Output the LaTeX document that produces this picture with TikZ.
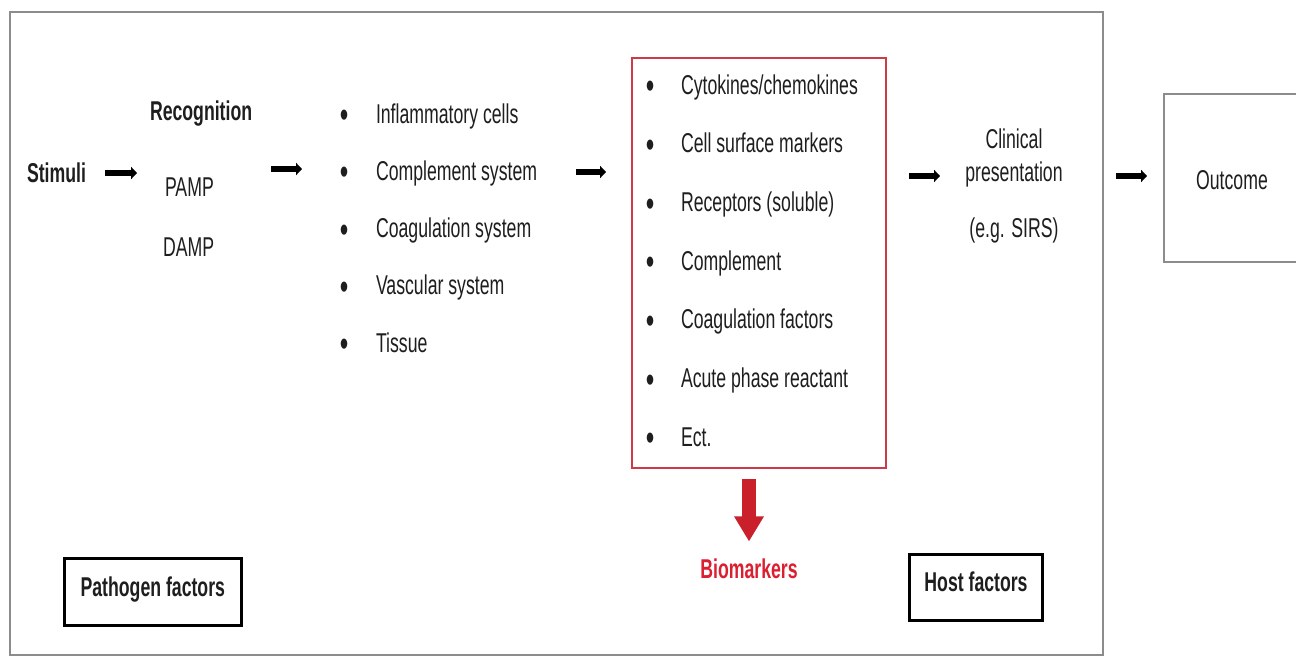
\documentclass[tikz,border=0pt]{standalone}
\usepackage{fontspec}
\setmainfont{Liberation Sans}[FakeStretch=0.65]
\usetikzlibrary{arrows.meta}
\definecolor{txt}{HTML}{1E1E1E}
\definecolor{framegray}{HTML}{8C8C8C}
\definecolor{boxred}{HTML}{CF3A48}
\definecolor{arrred}{HTML}{C9202C}
\definecolor{bmred}{HTML}{DC1F30}
\tikzset{
  base/.style={inner sep=0pt, outer sep=0pt, text=txt, font=\fontsize{20.4}{24}\selectfont},
  itemtext/.style={base, anchor=base west},
  bulletmark/.style={base, anchor=center, font=\fontsize{28}{30}\selectfont},
  ctext/.style={base, anchor=base},
  boldtext/.style={base, anchor=base west, font=\fontsize{20.4}{24}\selectfont\bfseries},
  flowarrow/.style={line width=4.8pt, -{Triangle[length=4.4pt,width=9pt]}},
  factorbox/.style={base, draw=black, line width=2.3pt, text height=14pt, text depth=7.4pt, font=\fontsize{20.4}{24}\selectfont\bfseries},
}
\begin{document}
\begin{tikzpicture}[x=0.75pt,y=-0.75pt]
\useasboundingbox (0,0) rectangle (1296,657);
\fill[white] (0,0) rectangle (1296,657);
% outer frame
\draw[framegray, line width=1.5pt] (10,11.5) rectangle (1102.5,655);

% left column
\node[boldtext] (stimuli) at (27,182.5) {Stimuli};
\node[boldtext] (recog) at (150,120) {Recognition};
\node[itemtext] (pamp) at (165,196.5) {PAMP};
\node[itemtext] (damp) at (163,256.5) {DAMP};

% responses list
\foreach \t [count=\i] in {Inflammatory cells,Complement system,Coagulation system,Vascular system,Tissue}{
  \node[bulletmark] (lb\i) at (344,{119+57.25*(\i-1)}) {\textbullet};
  \node[itemtext] (li\i) at (376,{123+57.25*(\i-1)}) {\t};
}

% biomarker box
\node[base, draw=boxred, line width=1.5pt, minimum width=190.5pt, minimum height=307.5pt, anchor=north west] (biobox) at (632,58) {};
\foreach \t [count=\i] in {Cytokines/chemokines,Cell surface markers,Receptors (soluble),Complement,Coagulation factors,Acute phase reactant,Ect.}{
  \node[bulletmark] (rb\i) at (650,{90+58.7*(\i-1)}) {\textbullet};
  \node[itemtext] (ri\i) at (681,{94+58.7*(\i-1)}) {\t};
}

% clinical presentation
\node[ctext] (clin1) at (1014,148) {Clinical};
\node[ctext] (clin2) at (1014,181) {presentation};
\node[ctext] (clin3) at (1014,237) {(e.g. SIRS)};

% outcome box
\node[base, draw=framegray, line width=1.5pt, minimum width=102pt, minimum height=125.5pt] (outcome) at (1232,178) {};
\node[ctext] (outtext) at (1232,189) {Outcome};

% flow arrows
\coordinate (a1s) at (105,173);  \coordinate (a1e) at (137,173);
\coordinate (a2s) at (271,169);  \coordinate (a2e) at (302,169);
\coordinate (a3s) at (576,172);  \coordinate (a3e) at (606,172);
\coordinate (a4s) at (909,176);  \coordinate (a4e) at (940,176);
\coordinate (a5s) at (1116,176); \coordinate (a5e) at (1147,176);
\foreach \k in {1,...,5}{\draw[flowarrow] (a\k s) -- (a\k e);}

% biomarkers arrow
\node[base, anchor=base, text=bmred, font=\fontsize{20.4}{24}\selectfont\bfseries] (biomark) at (749,578) {Biomarkers};
\coordinate (bmtip) at (749,541.5);
\draw[arrred, line width=10.6pt, -{Triangle[length=18.8pt,width=21pt]}] (biobox.south -| bmtip) ++(0,11) -- (bmtip);

% factor boxes
\node[factorbox, minimum width=132.5pt, minimum height=50.3pt] (pathogen) at (152.8,592.3) {Pathogen factors};
\node[factorbox, minimum width=100.2pt, minimum height=50pt] (host) at (976,587.5) {Host factors};
\end{tikzpicture}
\end{document}
